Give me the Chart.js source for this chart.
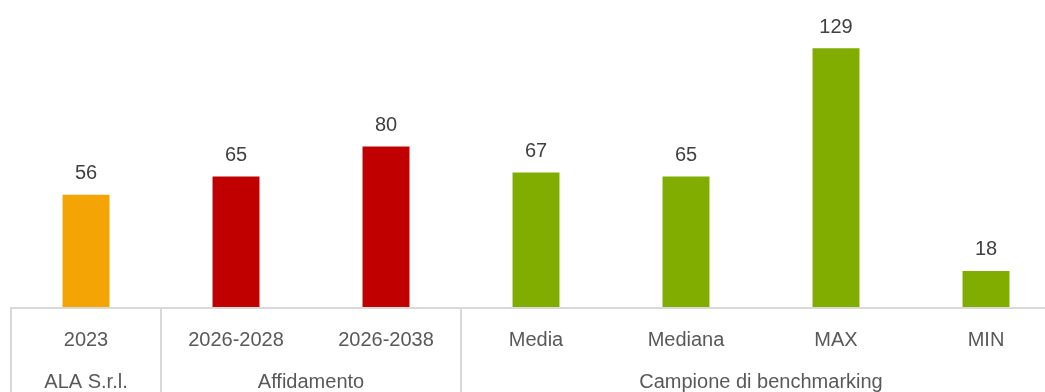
<!DOCTYPE html>
<html>
<head>
<meta charset="utf-8">
<script src="https://cdn.jsdelivr.net/npm/chart.js@4.4.1/dist/chart.umd.min.js"></script>
<style>
  html, body { margin: 0; padding: 0; background: #fff; overflow: hidden; }
  #wrap { width: 1062px; height: 392px; }
</style>
</head>
<body>
<div id="wrap"><canvas id="c" width="1062" height="392"></canvas></div>
<script>
// Categories (first axis row), their groups (second row) and values
const categories = ['2023', '2026-2028', '2026-2038', 'Media', 'Mediana', 'MAX', 'MIN'];
const groups = [
  { label: 'ALA S.r.l.', from: 0, to: 0 },
  { label: 'Affidamento', from: 1, to: 2 },
  { label: 'Campione di benchmarking', from: 3, to: 6 }
];
const values = [56, 65, 80, 67, 65, 129, 18];
const barColors = ['#F4A404', '#C00000', '#C00000', '#80AD00', '#80AD00', '#80AD00', '#80AD00'];

const FONT = '"Liberation Sans", Arial, sans-serif';
const LINE = '#D9D9D9';

// Value labels above bars plus a two-level category axis
const decorations = {
  id: 'decorations',
  afterDatasetsDraw(chart) {
    const ctx = chart.ctx;
    const x = chart.scales.x;
    const area = chart.chartArea;
    const meta = chart.getDatasetMeta(0);
    const step = x.getPixelForValue(1) - x.getPixelForValue(0);

    ctx.save();
    ctx.textAlign = 'center';
    ctx.textBaseline = 'middle';

    // value labels
    ctx.font = '20px ' + FONT;
    ctx.fillStyle = '#404040';
    meta.data.forEach((bar, i) => {
      ctx.fillText(String(values[i]), bar.x, bar.y - 21);
    });

    // axis baseline
    ctx.strokeStyle = LINE;
    ctx.lineWidth = 2;
    ctx.beginPath();
    ctx.moveTo(area.left - 1, area.bottom + 1);
    ctx.lineTo(chart.width, area.bottom + 1);
    ctx.stroke();

    // group separators
    const edges = [x.getPixelForValue(0) - step / 2];
    groups.forEach(g => edges.push(x.getPixelForValue(g.to) + step / 2));
    ctx.beginPath();
    edges.forEach(px => {
      ctx.moveTo(px, area.bottom);
      ctx.lineTo(px, chart.height);
    });
    ctx.stroke();

    // category labels
    ctx.fillStyle = '#595959';
    categories.forEach((c, i) => {
      ctx.fillText(c, x.getPixelForValue(i), area.bottom + 33);
    });

    // group labels
    groups.forEach(g => {
      const left = x.getPixelForValue(g.from) - step / 2;
      const right = x.getPixelForValue(g.to) + step / 2;
      ctx.fillText(g.label, (left + right) / 2, area.bottom + 75);
    });
    ctx.restore();
  }
};

new Chart(document.getElementById('c'), {
  type: 'bar',
  data: {
    labels: categories,
    datasets: [{
      data: values,
      backgroundColor: barColors,
      borderWidth: 0,
      barPercentage: 0.313,
      categoryPercentage: 1
    }]
  },
  options: {
    responsive: false,
    animation: false,
    devicePixelRatio: 1,
    layout: { padding: { left: 11, right: 1, top: 6, bottom: 85 } },
    plugins: { legend: { display: false }, tooltip: { enabled: false } },
    scales: {
      x: { display: false },
      y: { display: false, min: 0, max: 150 }
    }
  },
  plugins: [decorations]
});
</script>
</body>
</html>
